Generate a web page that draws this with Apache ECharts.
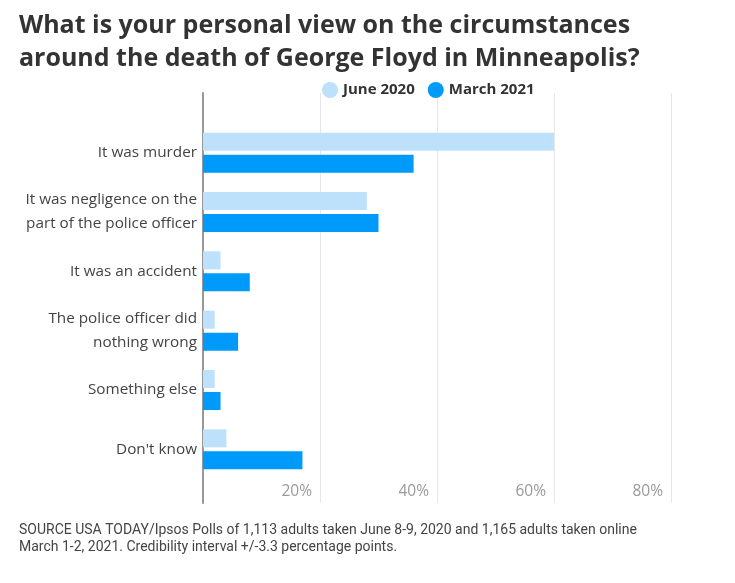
<!DOCTYPE html>
<html>
<head>
<meta charset="utf-8">
<script src="https://cdn.jsdelivr.net/npm/echarts@6/dist/echarts.min.js"></script>
<style>
  html, body { margin: 0; padding: 0; background: #fff; }
  #chart { width: 735px; height: 583px; }
</style>
</head>
<body>
<div id="chart"></div>
<script>
// poll answers (top to bottom)
const categories = [
  "It was murder",
  "It was negligence on the\npart of the police officer",
  "It was an accident",
  "The police officer did\nnothing wrong",
  "Something else",
  "Don't know"
];
const june2020 = [60, 28, 3, 2, 2, 4];
const march2021 = [36, 30, 8, 6, 3, 17];
const seriesNames = ["June 2020", "March 2021"];
const tickValues = [0, 20, 40, 60, 80];

const chart = echarts.init(document.getElementById("chart"), null, { renderer: "canvas" });

chart.setOption({
  animation: false,
  color: ["#bde0fb", "#009bfa"],
  title: [
    {
      text: "What is your personal view on the circumstances\naround the death of George Floyd in Minneapolis?",
      left: 14,
      top: 4,
      textStyle: {
        fontFamily: "Open Sans",
        fontWeight: "bold",
        fontSize: 25,
        lineHeight: 33,
        color: "#333"
      }
    },
    {
      text: "SOURCE USA TODAY/Ipsos Polls of 1,113 adults taken June 8-9, 2020 and 1,165 adults taken online\nMarch 1-2, 2021. Credibility interval +/-3.3 percentage points.",
      left: 14,
      top: 517,
      textStyle: {
        fontFamily: "Roboto",
        fontWeight: "normal",
        fontSize: 14,
        lineHeight: 17,
        color: "#444"
      }
    }
  ],
  legend: {
    data: seriesNames,
    left: 317,
    top: 77,
    icon: "circle",
    itemWidth: 16,
    itemHeight: 16,
    itemGap: 13,
    textStyle: { fontFamily: "Open Sans", fontWeight: "bold", fontSize: 15, color: "#333" }
  },
  grid: [
    // frame: gridlines, tick labels, left axis line
    { left: 203, right: 64, top: 93, bottom: 80 },
    // bars
    { left: 203, right: 64, top: 123, height: 356 }
  ],
  xAxis: [
    {
      gridIndex: 0,
      type: "value",
      min: 0,
      max: 80,
      interval: 20,
      axisLine: { show: false },
      axisTick: { show: false },
      splitLine: { show: true, lineStyle: { color: "#e6e6e6", width: 1 } },
      axisLabel: {
        inside: true,
        margin: 3,
        align: "right",
        padding: [0, 8, 0, 0],
        color: "#999",
        fontFamily: "Open Sans",
        fontSize: 15.5,
        formatter: v => (tickValues.indexOf(v) > 0 ? v + "%" : "")
      }
    },
    { gridIndex: 1, type: "value", min: 0, max: 80, show: false }
  ],
  yAxis: [
    {
      gridIndex: 0,
      type: "category",
      data: [""],
      axisLine: { show: true, lineStyle: { color: "#999", width: 2 } },
      axisTick: { show: false },
      axisLabel: { show: false }
    },
    {
      gridIndex: 1,
      type: "category",
      inverse: true,
      data: categories,
      axisLine: { show: false },
      axisTick: { show: false },
      axisLabel: {
        margin: 6,
        color: "#444",
        fontFamily: "Open Sans",
        fontSize: 15.3,
        lineHeight: 24
      }
    }
  ],
  series: [
    {
      name: seriesNames[0],
      type: "bar",
      xAxisIndex: 1,
      yAxisIndex: 1,
      data: june2020,
      barWidth: 18,
      barGap: "22%"
    },
    {
      name: seriesNames[1],
      type: "bar",
      xAxisIndex: 1,
      yAxisIndex: 1,
      data: march2021,
      barWidth: 18,
      barGap: "22%"
    }
  ]
});
</script>
</body>
</html>
